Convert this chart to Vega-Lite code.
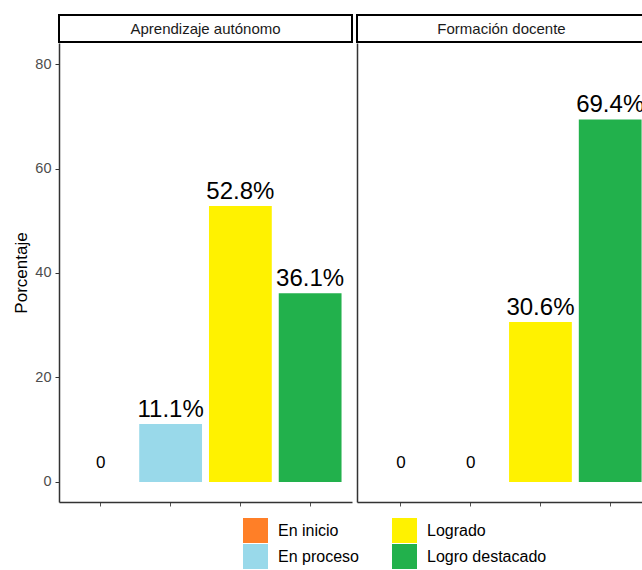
{
  "$schema": "https://vega.github.io/schema/vega-lite/v6.json",
  "padding": {"left": 12, "top": 14, "right": 0, "bottom": 0},
  "datasets": {
    "bars": [
      {"grupo": "Aprendizaje autónomo", "nivel": "En inicio", "valor": 0, "etiqueta": "0"},
      {"grupo": "Aprendizaje autónomo", "nivel": "En proceso", "valor": 11.1, "etiqueta": "11.1%"},
      {"grupo": "Aprendizaje autónomo", "nivel": "Logrado", "valor": 52.8, "etiqueta": "52.8%"},
      {"grupo": "Aprendizaje autónomo", "nivel": "Logro destacado", "valor": 36.1, "etiqueta": "36.1%"},
      {"grupo": "Formación docente", "nivel": "En inicio", "valor": 0, "etiqueta": "0"},
      {"grupo": "Formación docente", "nivel": "En proceso", "valor": 0, "etiqueta": "0"},
      {"grupo": "Formación docente", "nivel": "Logrado", "valor": 30.6, "etiqueta": "30.6%"},
      {"grupo": "Formación docente", "nivel": "Logro destacado", "valor": 69.4, "etiqueta": "69.4%"}
    ],
    "headers": [
      {"grupo": "Aprendizaje autónomo"},
      {"grupo": "Formación docente"}
    ]
  },
  "spacing": 3,
  "resolve": {"scale": {"color": "shared", "y": "shared"}, "legend": {"color": "shared"}},
  "hconcat": [
    {
      "spacing": 0,
      "vconcat": [
        {
          "width": 293,
          "height": 27,
          "view": {"stroke": "#000000", "strokeWidth": 2},
          "data": {"name": "headers"},
          "transform": [{"filter": "datum.grupo == 'Aprendizaje autónomo'"}],
          "mark": {"type": "text", "fontSize": 15, "color": "#1a1a1a"},
          "encoding": {
            "x": {"field": "grupo", "type": "nominal", "axis": null},
            "text": {"field": "grupo", "type": "nominal"}
          }
        },
        {
          "width": 293,
          "height": 459,
          "data": {"name": "bars"},
          "transform": [{"filter": "datum.grupo == 'Aprendizaje autónomo'"}],
          "encoding": {
            "x": {
              "field": "nivel", "type": "nominal",
              "sort": ["En inicio", "En proceso", "Logrado", "Logro destacado"],
              "scale": {"domain": ["En inicio", "En proceso", "Logrado", "Logro destacado"], "paddingInner": 0.1, "paddingOuter": 0.15},
              "axis": {"labels": false, "title": null, "ticks": true, "tickSize": 4, "tickColor": "#555555", "domainColor": "#333333", "domainWidth": 1.5}
            }
          },
          "layer": [
            {
              "mark": {"type": "bar"},
              "encoding": {
                "y": {
                  "field": "valor", "type": "quantitative",
                  "scale": {"domain": [-3.83, 84.02], "nice": false, "zero": false},
                  "axis": {"values": [0, 20, 40, 60, 80], "title": "Porcentaje", "titleFontSize": 17, "titleFontWeight": "normal", "titleColor": "#000000", "titlePadding": 4, "labelFontSize": 14.5, "labelColor": "#4d4d4d", "labelPadding": 4, "tickSize": 4, "tickColor": "#333333", "domainColor": "#333333", "domainWidth": 1.5, "grid": false}
                },
                "y2": {"datum": 0},
                "color": {
                  "field": "nivel", "type": "nominal",
                  "scale": {"domain": ["En inicio", "En proceso", "Logrado", "Logro destacado"], "range": ["#FF7F27", "#99D9EA", "#FFF200", "#22B14C"]},
                  "legend": {"title": null, "orient": "none", "legendX": 184, "legendY": 503, "direction": "vertical", "columns": 2, "symbolType": "square", "symbolSize": 625, "symbolStrokeWidth": 0, "symbolOpacity": 1, "labelFontSize": 16, "labelColor": "#000000", "labelOffset": 10, "rowPadding": 1, "columnPadding": 33, "padding": 0}
                }
              }
            },
            {
              "transform": [{"filter": "datum.valor > 0"}],
              "mark": {"type": "text", "fontSize": 24, "baseline": "alphabetic", "dy": -7, "color": "#000000"},
              "encoding": {
                "y": {"field": "valor", "type": "quantitative"},
                "text": {"field": "etiqueta", "type": "nominal"}
              }
            },
            {
              "transform": [{"filter": "datum.valor == 0"}],
              "mark": {"type": "text", "fontSize": 17, "baseline": "alphabetic", "dy": -14, "color": "#000000"},
              "encoding": {
                "y": {"field": "valor", "type": "quantitative"},
                "text": {"field": "etiqueta", "type": "nominal"}
              }
            }
          ]
        }
      ]
    },
    {
      "spacing": 0,
      "vconcat": [
        {
          "width": 289,
          "height": 27,
          "view": {"stroke": "#000000", "strokeWidth": 2},
          "data": {"name": "headers"},
          "transform": [{"filter": "datum.grupo == 'Formación docente'"}],
          "mark": {"type": "text", "fontSize": 15, "color": "#1a1a1a"},
          "encoding": {
            "x": {"field": "grupo", "type": "nominal", "axis": null},
            "text": {"field": "grupo", "type": "nominal"}
          }
        },
        {
          "width": 289,
          "height": 459,
          "data": {"name": "bars"},
          "transform": [{"filter": "datum.grupo == 'Formación docente'"}],
          "encoding": {
            "x": {
              "field": "nivel", "type": "nominal",
              "sort": ["En inicio", "En proceso", "Logrado", "Logro destacado"],
              "scale": {"domain": ["En inicio", "En proceso", "Logrado", "Logro destacado"], "paddingInner": 0.1, "paddingOuter": 0.1215, "align": 0.74},
              "axis": {"labels": false, "title": null, "ticks": true, "tickSize": 4, "tickColor": "#555555", "domainColor": "#333333", "domainWidth": 1.5}
            }
          },
          "layer": [
            {
              "mark": {"type": "bar"},
              "encoding": {
                "y": {
                  "field": "valor", "type": "quantitative",
                  "scale": {"domain": [-3.83, 84.02], "nice": false, "zero": false},
                  "axis": {"labels": false, "ticks": false, "title": null, "domainColor": "#333333", "domainWidth": 1.5, "grid": false}
                },
                "y2": {"datum": 0},
                "color": {
                  "field": "nivel", "type": "nominal",
                  "scale": {"domain": ["En inicio", "En proceso", "Logrado", "Logro destacado"], "range": ["#FF7F27", "#99D9EA", "#FFF200", "#22B14C"]},
                  "legend": {"title": null, "orient": "none", "legendX": 184, "legendY": 503, "direction": "vertical", "columns": 2, "symbolType": "square", "symbolSize": 625, "symbolStrokeWidth": 0, "symbolOpacity": 1, "labelFontSize": 16, "labelColor": "#000000", "labelOffset": 10, "rowPadding": 1, "columnPadding": 33, "padding": 0}
                }
              }
            },
            {
              "transform": [{"filter": "datum.valor > 0"}],
              "mark": {"type": "text", "fontSize": 24, "baseline": "alphabetic", "dy": -7, "color": "#000000"},
              "encoding": {
                "y": {"field": "valor", "type": "quantitative"},
                "text": {"field": "etiqueta", "type": "nominal"}
              }
            },
            {
              "transform": [{"filter": "datum.valor == 0"}],
              "mark": {"type": "text", "fontSize": 17, "baseline": "alphabetic", "dy": -14, "color": "#000000"},
              "encoding": {
                "y": {"field": "valor", "type": "quantitative"},
                "text": {"field": "etiqueta", "type": "nominal"}
              }
            }
          ]
        }
      ]
    }
  ],
  "config": {
    "font": "Liberation Sans",
    "view": {"stroke": null},
    "axis": {"grid": false}
  }
}
